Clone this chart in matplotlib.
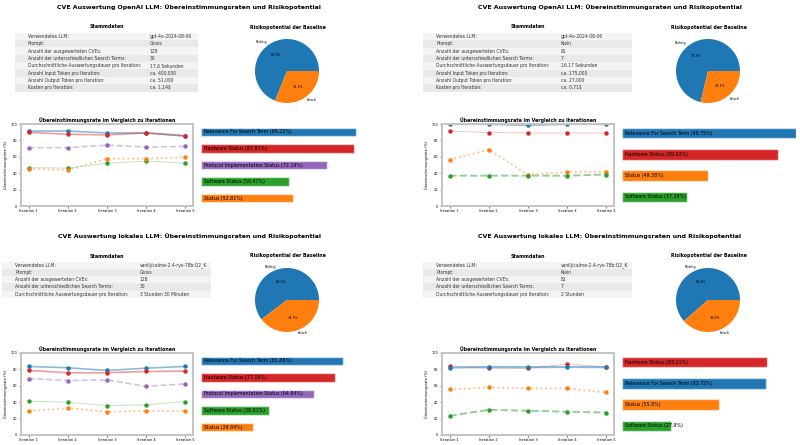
import matplotlib.pyplot as plt
import numpy as np

# ------------------------------------------------------------
# Data
# ------------------------------------------------------------
iterations = ["Iteration 1", "Iteration 2", "Iteration 3", "Iteration 4", "Iteration 5"]

title_openai = "CVE Auswertung OpenAI LLM: Übereinstimmungsraten und Risikopotential"
title_local = "CVE Auswertung lokales LLM: Übereinstimmungsraten und Risikopotential"

keys_openai = ["Verwendetes LLM:", "Prompt:", "Anzahl der ausgewerteten CVEs:",
               "Anzahl der unterschiedlichen Search Terms:",
               "Durchschnittliche Auswertungsdauer pro Iteration:",
               "Anzahl Input Token pro Iteration:", "Anzahl Output Token pro Iteration:",
               "Kosten pro Iteration:"]
keys_local = keys_openai[:5]

vals_openai_gross = ["gpt-4o-2024-08-06", "Gross", "128", "30", "17,6 Sekunden",
                     "ca. 400,000", "ca. 51,000", "ca. 1,14$"]
vals_openai_klein = ["gpt-4o-2024-08-06", "Klein", "81", "7", "16.17 Sekunden",
                     "ca. 175,000", "ca. 27,000", "ca. 0,71$"]
vals_local_gross = ["vanilj/calme-2.4-rys-78b:Q2_K", "Gross", "128", "30", "3 Stunden 30 Minuten"]
vals_local_klein = ["vanilj/calme-2.4-rys-78b:Q2_K", "Klein", "81", "7", "2 Stunden"]

pie_labels = ["Richtig", "falsch"]
pie_openai_gross = [68.9, 31.1]
pie_openai_klein = [71.3, 28.7]
pie_local_gross = [60.3, 39.7]
pie_local_klein = [61.4, 38.6]

# categories per panel (order as in the bar charts)
cats_gross = ["Relevance For Search Term", "Hardware Status", "Protocol Implementation Status",
              "Software Status", "Status"]
cats_openai_klein = ["Relevance For Search Term", "Hardware Status", "Status", "Software Status"]
cats_local_klein = ["Hardware Status", "Relevance For Search Term", "Status", "Software Status"]

# rates per iteration (%)
og_relevance = [91.4, 91.4, 89.1, 89.1, 85.2]
og_hardware = [89.8, 87.5, 86.7, 89.1, 85.9]
og_protocol = [71.1, 71.1, 74.2, 71.9, 72.6]
og_software = [46.9, 46.1, 52.3, 54.7, 52.3]
og_status = [45.3, 43.8, 57.8, 57.8, 59.4]

ok_relevance = [100.0, 100.0, 98.75, 100.0, 100.0]
ok_hardware = [91.2, 89.6, 89.1, 89.1, 89.1]
ok_status = [56.5, 68.7, 38.3, 41.4, 42.0]
ok_software = [37.0, 37.0, 37.0, 37.0, 38.4]

lg_relevance = [83.6, 82.0, 78.7, 81.5, 83.6]
lg_hardware = [78.7, 75.9, 75.9, 77.5, 77.95]
lg_protocol = [68.9, 66.4, 67.2, 59.4, 62.3]
lg_software = [41.4, 39.8, 35.9, 36.7, 40.75]
lg_status = [29.1, 32.8, 28.3, 29.5, 29.5]

lk_hardware = [84.0, 81.2, 81.2, 86.6, 83.05]
lk_relevance = [82.2, 83.0, 82.7, 83.0, 82.7]
lk_status = [55.5, 58.0, 56.8, 56.8, 51.9]
lk_software = [23.4, 30.7, 29.6, 28.4, 27.4]

# mean rates shown on the bars
bar_openai_gross = [89.22, 87.81, 72.19, 50.47, 52.81]
bar_openai_klein = [99.75, 89.63, 49.38, 37.28]
bar_local_gross = [81.88, 77.19, 64.84, 38.91, 29.84]
bar_local_klein = [83.21, 82.72, 55.8, 27.9]

# ------------------------------------------------------------
# Styles
# ------------------------------------------------------------
colors = {
    "Relevance For Search Term": "tab:blue",
    "Hardware Status": "tab:red",
    "Protocol Implementation Status": "tab:purple",
    "Software Status": "tab:green",
    "Status": "tab:orange",
}
style_gross = {
    "Relevance For Search Term": ("-", 1.2, 0.5),
    "Hardware Status": ("-", 1.2, 0.45),
    "Protocol Implementation Status": ("--", 1.2, 0.4),
    "Software Status": ("-", 0.8, 0.25),
    "Status": (":", 1.3, 0.5),
}
style_klein = {
    "Relevance For Search Term": ("-", 1.6, 0.5),
    "Hardware Status": ("-", 0.6, 0.3),
    "Status": (":", 1.3, 0.5),
    "Software Status": ("--", 1.4, 0.5),
}

panels = [
    dict(title=title_openai, keys=keys_openai, vals=vals_openai_gross, pie=pie_openai_gross,
         cats=cats_gross, lines=[og_relevance, og_hardware, og_protocol, og_software, og_status],
         bars=bar_openai_gross, style=style_gross,
         dx=0, dy=0, tab=(15, 144.7, 198), rows=(32.7, 91.5)),
    dict(title=title_openai, keys=keys_openai, vals=vals_openai_klein, pie=pie_openai_klein,
         cats=cats_openai_klein, lines=[ok_relevance, ok_hardware, ok_status, ok_software],
         bars=bar_openai_klein, style=style_klein,
         dx=421, dy=0, tab=(2, 132, 211), rows=(33, 91.5)),
    dict(title=title_local, keys=keys_local, vals=vals_local_gross, pie=pie_local_gross,
         cats=cats_gross, lines=[lg_relevance, lg_hardware, lg_protocol, lg_software, lg_status],
         bars=bar_local_gross, style=style_gross,
         dx=0, dy=229, tab=(2, 132, 211), rows=(32.7, 68.7)),
    dict(title=title_local, keys=keys_local, vals=vals_local_klein, pie=pie_local_klein,
         cats=cats_local_klein, lines=[lk_hardware, lk_relevance, lk_status, lk_software],
         bars=bar_local_klein, style=style_klein,
         dx=421, dy=229, tab=(2, 132, 211), rows=(32.7, 68.7)),
]

W, H = 800, 445
fig = plt.figure(figsize=(8, 4.45), dpi=100)


def box(x0, y0, x1, y1):
    # pixel box (top-left origin) -> figure fraction
    return [x0 / W, 1 - y1 / H, (x1 - x0) / W, (y1 - y0) / H]


for p in panels:
    dx, dy = p["dx"], p["dy"]

    # main title
    fig.text((189 + dx) / W, 1 - (7.5 + dy) / H, p["title"], ha="center", va="center",
             fontsize=4.5, fontweight="bold")

    # ---- table ----
    tx0, tsplit, tx1 = p["tab"]
    ry0, ry1 = p["rows"]
    fig.text(((tx0 + tx1) / 2 + dx) / W, 1 - (27 + dy) / H, "Stammdaten", ha="center",
             va="center", fontsize=3.4, fontweight="bold")
    ax_t = fig.add_axes(box(tx0 + dx, ry0 + dy, tx1 + dx, ry1 + dy))
    ax_t.axis("off")
    cell_text = [[k, v] for k, v in zip(p["keys"], p["vals"])]
    cell_col = [["#f4f4f4", "#f4f4f4"] if i % 2 == 0 else ["#e9e9e9", "#e9e9e9"]
                for i in range(len(cell_text))]
    wl = (tsplit - tx0) / (tx1 - tx0)
    tbl = ax_t.table(cellText=cell_text, cellColours=cell_col, cellLoc="left",
                     colWidths=[wl, 1 - wl], bbox=[0, 0, 1, 1])
    tbl.auto_set_font_size(False)
    tbl.set_fontsize(3.25)
    for cell in tbl.get_celld().values():
        cell.set_edgecolor("none")
        cell.set_text_props(color="#333333")

    # ---- pie ----
    fig.text((288 + dx) / W, 1 - (27 + dy) / H, "Risikopotential der Baseline", ha="center",
             va="center", fontsize=3.4, fontweight="bold")
    cx, cy, r = 287 + dx, 71 + dy, 32
    ax_p = fig.add_axes(box(cx - 1.25 * r, cy - 1.25 * r, cx + 1.25 * r, cy + 1.25 * r))
    ax_p.pie(p["pie"], labels=pie_labels, autopct="%1.1f%%", colors=["tab:blue", "tab:orange"],
             textprops={"fontsize": 2.4})

    # ---- line chart ----
    ax_l = fig.add_axes(box(20.7 + dx, 124 + dy, 193 + dx, 206 + dy))
    x = np.arange(len(iterations))
    for cat, vals in zip(p["cats"], p["lines"]):
        ls, lw, al = p["style"][cat]
        ax_l.plot(x, vals, linestyle=ls, linewidth=lw, alpha=al, color=colors[cat])
        ax_l.plot(x, vals, "o", markersize=2.2, color=colors[cat])
    ax_l.set_ylim(0, 100)
    ax_l.set_xticks(x)
    ax_l.set_xticklabels(iterations)
    ax_l.set_yticks(range(0, 101, 20))
    ax_l.tick_params(labelsize=2.5, length=1.5, width=0.4, pad=1)
    ax_l.set_ylabel("Übereinstimmungsrate (%)", fontsize=2.5, labelpad=2)
    ax_l.set_title("Übereinstimmungsrate im Vergleich zu Iterationen", fontsize=3.4,
                   fontweight="bold", pad=1.5)
    for sp in ax_l.spines.values():
        sp.set_color("#c4c4c4")
        sp.set_linewidth(1.4)

    # ---- bar chart ----
    ax_b = fig.add_axes(box(201 + dx, 124 + dy, 375 + dx, 206 + dy))
    yb = np.arange(len(p["cats"]))
    ax_b.barh(yb, p["bars"], height=0.5, color=[colors[c] for c in p["cats"]],
              linewidth=1.0)
    for bar in ax_b.patches:
        bar.set_edgecolor((1, 1, 1, 0.55))
    for yi, cat, v in zip(yb, p["cats"], p["bars"]):
        ax_b.text(2, yi, f"{cat} ({v}%)", va="center", ha="left", fontsize=3.4)
    ax_b.set_xlim(0, 100)
    ax_b.invert_yaxis()
    ax_b.axis("off")

fig.savefig("out.png", dpi=100)
